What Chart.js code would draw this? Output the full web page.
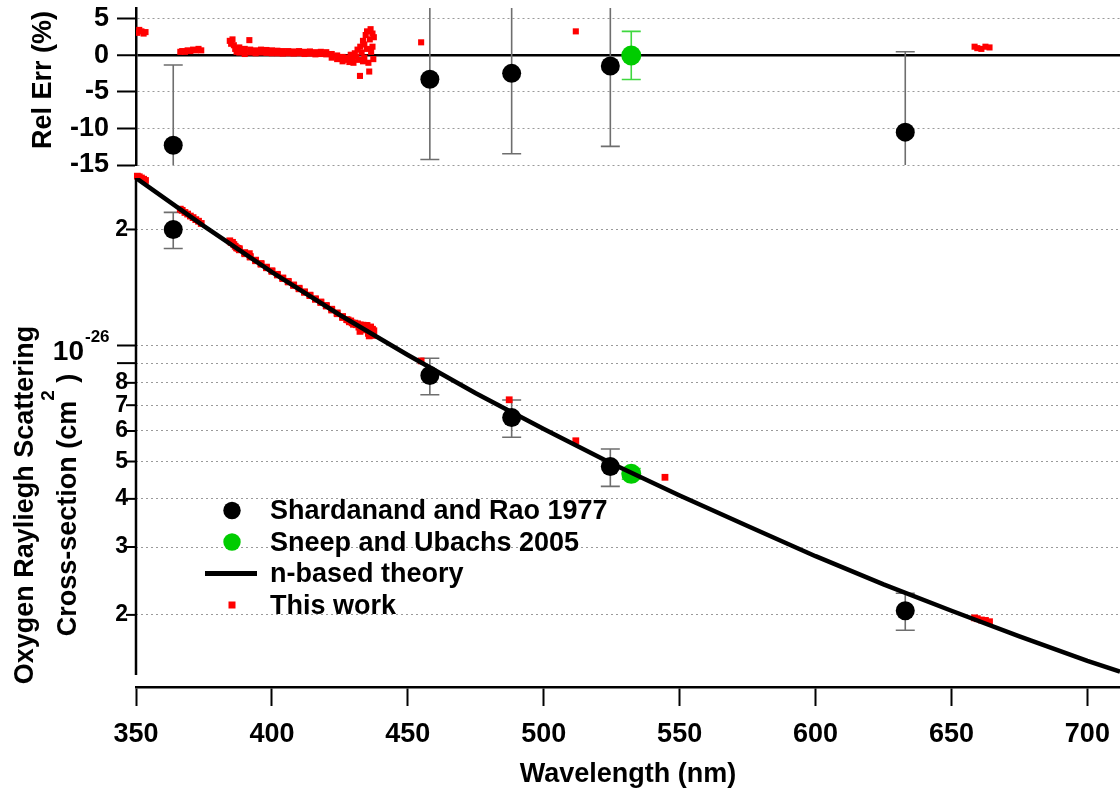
<!DOCTYPE html>
<html>
<head>
<meta charset="utf-8">
<title>Oxygen Rayleigh scattering cross-section</title>
<script src="https://cdn.jsdelivr.net/npm/chart.js@4.4.1/dist/chart.umd.min.js"></script>
<style>
  html, body { margin: 0; padding: 0; background: #fff; overflow: hidden; }
  #wrap { position: relative; width: 1120px; height: 792px; }
  #relBox { position: absolute; left: 0; top: 0; width: 1120px; height: 184px; }
  #sigmaBox { position: absolute; left: 0; top: 172px; width: 1120px; height: 620px; }
</style>
</head>
<body>
<div id="wrap">
  <div id="relBox"><canvas id="chartRel"></canvas></div>
  <div id="sigmaBox"><canvas id="chartSigma"></canvas></div>
</div>
<script>
const FONT = "'Liberation Sans', Arial, Helvetica, sans-serif";

// ---- axes ----
const xTicks = [350, 400, 450, 500, 550, 600, 650, 700];
const relTicks = [-15, -10, -5, 0, 5];
// cross-section in units of 1e-26 cm^2
const sigmaTicks = [0.2, 0.3, 0.4, 0.5, 0.6, 0.7, 0.8, 0.9, 1, 2];
const sigmaLabels = ['2', '3', '4', '5', '6', '7', '8', '', '', '2'];
const sigmaLongTicks = [0.9, 1];

// ---- Shardanand and Rao 1977 ----
const srWl = [363.7, 458.1, 488.2, 524.5, 633.0];
const srSigma = [2.00, 0.836, 0.650, 0.485, 0.205];
const srSigmaErr = [0.215, 0.091, 0.072, 0.054, 0.0226];
const srRel = [-12.3, -3.25, -2.45, -1.45, -10.5];
const srRelErr = [11.0, 11.0, 11.0, 11.0, 11.0];

// ---- Sneep and Ubachs 2005 ----
const suWl = [532.2];
const suSigma = [0.4646];
const suSigmaErr = [0.015];
const suRel = [0.0];
const suRelErr = [3.3];

// ---- n-based theory ----
const theoryWl = [350, 375, 400, 425, 450, 475, 500, 525, 550, 575, 600, 625, 650, 675, 700, 712];
const theorySigma = [2.72, 2.04, 1.55, 1.20, 0.945, 0.752, 0.607, 0.494, 0.408, 0.340, 0.284, 0.240, 0.205, 0.176, 0.152, 0.1425];

// ---- this work: relative error vs theory (%) ----
const workRelWl = [
  350.5, 351.2, 352.0, 352.8, 353.5,
  366.3, 367, 368, 369, 370, 371, 372, 373, 374,
  384.5, 385, 385.5, 386, 386.5, 387, 387.5, 391.7,
  388, 388, 390, 390, 392, 392, 394, 394, 396, 396, 398, 398, 400, 400,
  402, 402, 404, 404, 406, 406, 408, 408, 410, 410, 412, 412, 414, 414,
  416, 416, 418, 418, 420, 420, 422, 422, 424, 424, 426, 426,
  427.5, 428, 428.5, 429, 429.5, 430, 430.5, 431, 431.5, 432,
  432.4, 432.5, 433, 433.5, 433.5, 434, 434, 434.5, 435, 435,
  435.5, 435.8, 436, 436.3, 436.5, 437, 437, 437.3, 437.5,
  454.9, 511.8, 658.5, 659.5, 661, 662.5, 664
];
const workRel = [
  3.1, 3.5, 3.3, 3.0, 3.2,
  0.5, 0.6, 0.5, 0.7, 0.6, 0.8, 0.7, 0.9, 0.7,
  2.0, 1.6, 2.2, 1.4, 0.9, 0.5, 0.8, 2.1,
  1.1, 0.4, 0.9, 0.2, 0.8, 0.4, 0.7, 0.3, 0.8, 0.4, 0.75, 0.35, 0.7, 0.3,
  0.65, 0.3, 0.6, 0.25, 0.6, 0.3, 0.55, 0.25, 0.6, 0.3, 0.5, 0.2, 0.55, 0.25,
  0.45, 0.15, 0.5, 0.2, 0.45, 0.15, 0.2, -0.3, 0.0, -0.5, -0.2, -0.8,
  -0.6, -0.3, -0.9, 0.1, -0.5, -1.0, 0.3, -0.2, 0.8, -0.6,
  -2.8, 1.2, 0.4, -0.8, 2.0, 1.5, -0.3, 2.8, 0.9, 3.3,
  -1.0, -2.2, 2.2, 3.6, 0.5, 3.0, 1.2, -0.5, 2.5,
  1.8, 3.3, 1.2, 1.0, 0.9, 1.2, 1.1
];

// ---- this work: cross-section (1e-26 cm^2) ----
const workSigmaWl = [
  350.5, 351.2, 352.0, 352.8, 353.5,
  366.3, 367, 368, 369, 370, 371, 372, 373, 374,
  384.5, 385, 385.5, 386, 386.5, 387, 387.5, 391.7,
  388, 388, 390, 390, 392, 392, 394, 394, 396, 396, 398, 398, 400, 400,
  402, 402, 404, 404, 406, 406, 408, 408, 410, 410, 412, 412, 414, 414,
  416, 416, 418, 418, 420, 420, 422, 422, 424, 424, 426, 426,
  427.5, 428, 428.5, 429, 429.5, 430, 430.5, 431, 431.5, 432,
  432.4, 432.5, 433, 433.5, 433.5, 434, 434, 434.5, 435, 435,
  435.5, 435.8, 436, 436.3, 436.5, 437, 437, 437.3, 437.5,
  454.9, 511.8, 658.5, 659.5, 661, 662.5, 664,
  487.3, 544.6
];
const workSigma = [
  2.75, 2.74, 2.72, 2.70, 2.68,
  2.258, 2.242, 2.214, 2.193, 2.167, 2.147, 2.121, 2.101, 2.073,
  1.869, 1.851, 1.852, 1.828, 1.809, 1.792, 1.787, 1.731,
  1.783, 1.771, 1.742, 1.730, 1.703, 1.696, 1.665, 1.659, 1.632, 1.625, 1.597, 1.591, 1.563, 1.557,
  1.530, 1.524, 1.497, 1.492, 1.467, 1.462, 1.436, 1.432, 1.408, 1.403, 1.378, 1.374, 1.351, 1.347,
  1.322, 1.318, 1.297, 1.293, 1.270, 1.266, 1.242, 1.236, 1.215, 1.209, 1.189, 1.182,
  1.167, 1.165, 1.152, 1.158, 1.145, 1.135, 1.143, 1.132, 1.138, 1.116,
  1.088, 1.131, 1.118, 1.098, 1.129, 1.119, 1.099, 1.127, 1.101, 1.127,
  1.075, 1.059, 1.105, 1.117, 1.081, 1.102, 1.083, 1.062, 1.092,
  0.912, 0.566, 0.1965, 0.1955, 0.194, 0.1935, 0.192,
  0.723, 0.455
];

const pts = (xs, ys) => xs.map((x, i) => ({ x: x, y: ys[i] }));
const boldFont = (size) => ({ family: FONT, size: size, weight: 'bold' });

// keep the plot area where the layout puts it: no extra room for edge labels
const noEdgePadding = (s) => {
  s.paddingTop = 0;
  s.paddingBottom = 0;
  s.paddingLeft = 0;
  s.paddingRight = 0;
};

// vertical error bars with caps, drawn under the markers
const errorBars = {
  id: 'errorBars',
  beforeDatasetsDraw(chart) {
    const ctx = chart.ctx;
    const area = chart.chartArea;
    const yScale = chart.scales.y;
    chart.data.datasets.forEach((ds, di) => {
      if (!ds.errors) return;
      const meta = chart.getDatasetMeta(di);
      ctx.save();
      ctx.beginPath();
      ctx.rect(area.left, area.top, area.right - area.left, area.bottom - area.top);
      ctx.clip();
      ctx.strokeStyle = ds.errorColor;
      ctx.lineWidth = 1.6;
      meta.data.forEach((el, i) => {
        const v = ds.data[i].y;
        const e = ds.errors[i];
        const yHi = yScale.getPixelForValue(v + e);
        const yLo = yScale.getPixelForValue(v - e);
        const half = 9.5;
        ctx.beginPath();
        ctx.moveTo(el.x, yHi);
        ctx.lineTo(el.x, yLo);
        ctx.moveTo(el.x - half, yHi);
        ctx.lineTo(el.x + half, yHi);
        ctx.moveTo(el.x - half, yLo);
        ctx.lineTo(el.x + half, yLo);
        ctx.stroke();
      });
      ctx.restore();
    });
  }
};

// rotated text made of runs (for superscripts), centred on y, baseline at x
function drawRotated(ctx, x, y, parts) {
  ctx.save();
  ctx.translate(x, y);
  ctx.rotate(-Math.PI / 2);
  ctx.fillStyle = '#000';
  ctx.textBaseline = 'alphabetic';
  ctx.textAlign = 'left';
  let total = 0;
  parts.forEach(p => {
    ctx.font = `bold ${p.size}px ${FONT}`;
    p.w = ctx.measureText(p.text).width;
    total += p.w;
  });
  let cx = -total / 2;
  parts.forEach(p => {
    ctx.font = `bold ${p.size}px ${FONT}`;
    ctx.fillText(p.text, cx, -(p.rise || 0));
    cx += p.w;
  });
  ctx.restore();
}

const relTitle = {
  id: 'relTitle',
  afterDraw(chart) {
    drawRotated(chart.ctx, 51, 80, [{ text: 'Rel Err (%)', size: 27 }]);
  }
};

const sigmaTitle = {
  id: 'sigmaTitle',
  afterDraw(chart) {
    const ctx = chart.ctx;
    drawRotated(ctx, 33, 333, [{ text: 'Oxygen Rayliegh Scattering', size: 27 }]);
    drawRotated(ctx, 76, 333, [
      { text: 'Cross-section (cm', size: 27 },
      { text: '2', size: 19, rise: 22 },
      { text: ' )', size: 27 }
    ]);
  }
};

// left axis line stopping short of the wavelength axis, plus tick marks and 10^-26 label
const sigmaAxis = {
  id: 'sigmaAxis',
  afterDraw(chart) {
    const ctx = chart.ctx;
    const area = chart.chartArea;
    const y = chart.scales.y;
    const left = area.left;
    ctx.save();
    ctx.strokeStyle = '#000';
    ctx.lineWidth = 2.5;
    ctx.beginPath();
    ctx.moveTo(left, area.top);
    ctx.lineTo(left, area.bottom - 12);
    ctx.stroke();
    ctx.lineWidth = 2;
    sigmaTicks.forEach(v => {
      const py = y.getPixelForValue(v);
      const len = sigmaLongTicks.includes(v) ? 19 : 10;
      ctx.beginPath();
      ctx.moveTo(left - len, py);
      ctx.lineTo(left, py);
      ctx.stroke();
    });
    const p1 = y.getPixelForValue(1);
    ctx.fillStyle = '#000';
    ctx.textBaseline = 'alphabetic';
    ctx.textAlign = 'right';
    ctx.font = `bold 28px ${FONT}`;
    ctx.fillText('10', 84, p1 + 15);
    ctx.textAlign = 'left';
    ctx.font = `bold 17px ${FONT}`;
    ctx.fillText('-26', 85, p1 - 3);
    ctx.restore();
  }
};

// legend placed inside the plot
const insideLegend = {
  id: 'insideLegend',
  afterDraw(chart) {
    const ctx = chart.ctx;
    const symX = 232;
    const textX = 270;
    const baseY = 347;
    const rowH = 31.5;
    const items = chart.data.datasets.slice().sort((a, b) => a.legendRank - b.legendRank);
    ctx.save();
    items.forEach((ds, i) => {
      const by = baseY + i * rowH;
      const sy = by - 8.5;
      if (ds.showLine) {
        ctx.strokeStyle = ds.borderColor;
        ctx.lineWidth = 5;
        ctx.beginPath();
        ctx.moveTo(symX - 27, sy);
        ctx.lineTo(symX + 25, sy);
        ctx.stroke();
      } else if (ds.pointStyle === 'rect') {
        ctx.fillStyle = ds.backgroundColor;
        ctx.fillRect(symX - 3.5, sy - 3.5, 7, 7);
      } else {
        ctx.fillStyle = ds.backgroundColor;
        ctx.beginPath();
        ctx.arc(symX, sy, 8.7, 0, Math.PI * 2);
        ctx.fill();
      }
      ctx.fillStyle = '#000';
      ctx.font = `bold 27px ${FONT}`;
      ctx.textAlign = 'left';
      ctx.textBaseline = 'alphabetic';
      ctx.fillText(ds.label, textX, by);
    });
    ctx.restore();
  }
};

// ---- top panel: relative error ----
new Chart(document.getElementById('chartRel'), {
  type: 'scatter',
  data: {
    datasets: [
      {
        label: 'Shardanand and Rao 1977',
        data: pts(srWl, srRel),
        errors: srRelErr,
        errorColor: '#6e6e6e',
        backgroundColor: '#000000',
        borderWidth: 0,
        pointRadius: 9.5,
        order: 1
      },
      {
        label: 'Sneep and Ubachs 2005',
        data: pts(suWl, suRel),
        errors: suRelErr,
        errorColor: '#3fd83f',
        backgroundColor: '#00cc00',
        borderWidth: 0,
        pointRadius: 10,
        order: 2
      },
      {
        label: 'This work',
        data: pts(workRelWl, workRel),
        backgroundColor: '#ff0000',
        borderWidth: 0,
        pointStyle: 'rect',
        pointRadius: 4.3,
        order: 3
      }
    ]
  },
  options: {
    responsive: true,
    maintainAspectRatio: false,
    animation: false,
    events: [],
    layout: { autoPadding: false, padding: { top: 8, bottom: 19, left: 0, right: 0 } },
    plugins: { legend: { display: false }, tooltip: { enabled: false } },
    scales: {
      x: { type: 'linear', min: 350, max: 712, display: false },
      y: {
        min: -15,
        max: 6.5,
        afterBuildTicks: (s) => { s.ticks = relTicks.map(v => ({ value: v })); },
        afterFit: (s) => { s.width = 136; noEdgePadding(s); },
        grid: {
          color: (c) => (c.tick && c.tick.value === 0 ? '#000' : '#9a9a9a'),
          lineWidth: (c) => (c.tick && c.tick.value === 0 ? 2.5 : 1),
          tickLength: 19,
          tickWidth: 2,
          tickColor: '#000',
          tickBorderDash: []
        },
        border: {
          color: '#000',
          width: 2.5,
          dash: (c) => (c.tick && c.tick.value === 0 ? [] : [2, 3])
        },
        ticks: { color: '#000', padding: 8, autoSkip: false, font: boldFont(27) }
      }
    }
  },
  plugins: [errorBars, relTitle]
});

// ---- bottom panel: cross-section ----
new Chart(document.getElementById('chartSigma'), {
  type: 'scatter',
  data: {
    datasets: [
      {
        label: 'n-based theory',
        data: pts(theoryWl, theorySigma),
        showLine: true,
        borderColor: '#000000',
        borderWidth: 4.5,
        pointRadius: 0,
        order: 0,
        legendRank: 3
      },
      {
        label: 'Shardanand and Rao 1977',
        data: pts(srWl, srSigma),
        errors: srSigmaErr,
        errorColor: '#6e6e6e',
        backgroundColor: '#000000',
        borderWidth: 0,
        pointRadius: 9.5,
        order: 1,
        legendRank: 1
      },
      {
        label: 'Sneep and Ubachs 2005',
        data: pts(suWl, suSigma),
        errors: suSigmaErr,
        errorColor: '#3fd83f',
        backgroundColor: '#00cc00',
        borderWidth: 0,
        pointRadius: 10,
        order: 2,
        legendRank: 2
      },
      {
        label: 'This work',
        data: pts(workSigmaWl, workSigma),
        backgroundColor: '#ff0000',
        borderWidth: 0,
        pointStyle: 'rect',
        pointRadius: 4.8,
        clip: 6,
        order: 3,
        legendRank: 4
      }
    ]
  },
  options: {
    responsive: true,
    maintainAspectRatio: false,
    animation: false,
    events: [],
    layout: { autoPadding: false, padding: { top: 6, bottom: 0, left: 0, right: 0 } },
    plugins: { legend: { display: false }, tooltip: { enabled: false } },
    scales: {
      x: {
        type: 'linear',
        min: 350,
        max: 712,
        afterBuildTicks: (s) => { s.ticks = xTicks.map(v => ({ value: v })); },
        afterFit: (s) => { s.height = 105; noEdgePadding(s); },
        grid: { drawOnChartArea: false, tickLength: 19, tickWidth: 2, tickColor: '#000' },
        border: { color: '#000', width: 2.5 },
        ticks: { color: '#000', padding: 12, maxRotation: 0, autoSkip: false, font: boldFont(27) },
        title: {
          display: true,
          text: 'Wavelength (nm)',
          color: '#000',
          font: boldFont(27),
          padding: { top: 0, bottom: 1 }
        }
      },
      y: {
        type: 'logarithmic',
        min: 0.13,
        max: 2.72,
        afterBuildTicks: (s) => { s.ticks = sigmaTicks.map(v => ({ value: v })); },
        afterFit: (s) => { s.width = 136; noEdgePadding(s); },
        grid: { color: '#9a9a9a', lineWidth: 1, drawTicks: false },
        border: { display: false, dash: [2, 3] },
        ticks: {
          color: '#000',
          padding: 8,
          autoSkip: false,
          font: boldFont(23),
          callback: (v, i) => sigmaLabels[i]
        }
      }
    }
  },
  plugins: [errorBars, sigmaAxis, sigmaTitle, insideLegend]
});
</script>
</body>
</html>
